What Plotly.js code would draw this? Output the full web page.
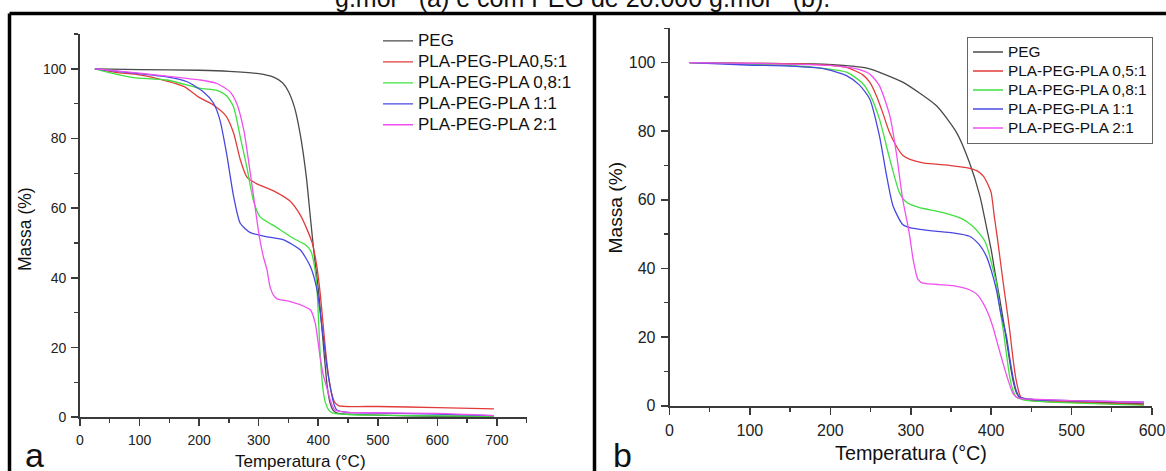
<!DOCTYPE html>
<html><head><meta charset="utf-8">
<script src="https://cdn.plot.ly/plotly-3.0.1.min.js"></script>
<style>html,body{margin:0;padding:0;background:#fff;} #chart{width:1166px;height:471px;}</style>
</head><body><div id="chart"></div>
<script>
// ---------- Panel a (PEG lower molar mass) ----------
const seriesNamesA = ["PEG", "PLA-PEG-PLA0,5:1", "PLA-PEG-PLA 0,8:1", "PLA-PEG-PLA 1:1", "PLA-PEG-PLA 2:1"];
const tempA_PEG = [25, 100, 200, 250, 300, 325, 340, 350, 360, 370, 380, 387, 393, 400, 405, 410, 415, 420, 425, 432, 450, 500, 600, 695];
const massA_PEG = [100, 99.8, 99.6, 99.3, 98.6, 97.6, 96, 93.5, 89, 81, 69, 57, 47, 37, 28, 18, 9, 4, 2, 1.2, 0.9, 0.6, 0.3, 0.2];
const tempA_05 = [25, 60, 100, 135, 175, 200, 225, 245, 258, 269, 280, 297, 325, 353, 370, 381, 390, 397, 403, 408, 413, 418, 423, 428, 435, 500, 600, 695];
const massA_05 = [100, 99, 98.3, 97, 94.9, 91.8, 89.5, 86.5, 81.5, 74, 69, 67, 65, 62, 58, 54, 50, 44, 36, 27, 18, 11, 6.5, 4.2, 3.3, 3.1, 2.8, 2.4];
const tempA_08 = [25, 60, 90, 146, 202, 230, 246, 258, 269, 280, 291, 302, 330, 358, 380, 388, 394, 398, 401, 404, 408, 412, 418, 425, 450, 500, 600, 695];
const massA_08 = [100, 98.5, 97.5, 96.8, 94.4, 93.8, 92.3, 89, 80.5, 71.9, 62.3, 57.6, 54.5, 51.4, 49.3, 47.5, 43, 36.5, 26, 16, 8, 4.2, 2, 1.2, 0.8, 0.6, 0.4, 0.3];
const tempA_11 = [25, 90, 146, 180, 207, 224, 235, 246, 258, 269, 286, 314, 342, 370, 387, 398, 404, 409, 415, 420, 426, 431, 450, 500, 600, 695];
const massA_11 = [100, 98.8, 97.7, 96.3, 93.4, 90.2, 85.3, 75.8, 63.3, 55.7, 53, 51.8, 50.9, 48, 43.2, 36.5, 29, 22.2, 14, 8.8, 4, 2.1, 1.4, 1.2, 0.9, 0.5];
const tempA_21 = [25, 100, 146, 202, 230, 252, 263, 275, 286, 297, 302, 308, 314, 319, 325, 331, 353, 370, 387, 395, 403, 408, 414, 421, 428, 450, 500, 600, 695];
const massA_21 = [100, 98.8, 97.9, 96.8, 95.8, 93.4, 90.1, 82.4, 70, 56.6, 51, 46, 42.3, 37.5, 35, 34, 33.2, 32.3, 30.8, 27, 17.4, 12.5, 8.8, 4.5, 2.1, 1.4, 1.3, 1.1, 0.5];

// ---------- Panel b (PEG 20.000 g/mol) ----------
const seriesNamesB = ["PEG", "PLA-PEG-PLA 0,5:1", "PLA-PEG-PLA 0,8:1", "PLA-PEG-PLA 1:1", "PLA-PEG-PLA 2:1"];
const tempB_PEG = [25, 100, 178, 220, 249, 261, 290, 332, 357, 373, 386, 394, 400, 405, 410, 415, 419, 423, 427, 431, 436, 450, 500, 590];
const massB_PEG = [100, 99.8, 99.6, 99.1, 98.2, 97.2, 94.3, 87.4, 79.6, 70.9, 61.1, 52.3, 45.5, 38.5, 32, 25, 19.2, 13, 7.5, 4, 2.2, 1.8, 1.3, 0.5];
const tempB_05 = [25, 100, 180, 220, 240, 249, 257, 265, 273, 282, 290, 299, 315, 332, 350, 369, 382, 390, 396, 400, 404, 408, 414, 419, 423, 427, 431, 437, 450, 500, 590];
const massB_05 = [100, 99.8, 99.5, 98.6, 96.5, 94.3, 90.5, 85.5, 80, 75.7, 73, 71.8, 70.8, 70.4, 70, 69.4, 68.5, 67, 64.5, 62.1, 55, 48.4, 37.5, 29, 22.1, 14, 7.5, 2.5, 1.5, 1, 0.3];
const tempB_08 = [25, 100, 137, 180, 220, 240, 249, 261, 274, 286, 295, 310, 332, 350, 365, 376, 386, 392, 396, 401, 406.5, 411, 415, 419, 423, 427, 431, 440, 450, 500, 590];
const massB_08 = [100, 99.6, 99.3, 98.6, 97.2, 94, 90.8, 83.6, 71.8, 62.1, 59.2, 57.8, 56.7, 55.6, 54.3, 52.5, 50, 48, 45.5, 41, 35.8, 28, 22.1, 15, 8.5, 4.5, 2.6, 1.7, 1.4, 0.8, 0.1];
const tempB_11 = [25, 96, 150, 190, 220, 236, 249, 261, 270, 278, 290, 300, 311, 330, 352, 373, 385, 394, 400, 406.5, 412, 419, 423, 427, 431, 435, 450, 500, 590];
const massB_11 = [100, 99.3, 99, 98.3, 96.2, 93.5, 89.4, 78.7, 67, 58.2, 52.8, 51.8, 51.4, 50.9, 50.4, 49.4, 47, 43.6, 39.5, 33.8, 27, 20.2, 14, 8.5, 4.5, 2.6, 1.8, 1.5, 1];
const tempB_21 = [25, 100, 199, 230, 249, 261, 274, 282, 290, 296.6, 299, 303, 309, 314, 319.5, 335, 352.5, 373, 383, 390, 396, 402, 408, 414.7, 421, 427, 433, 440, 450, 500, 590];
const massB_21 = [100, 99.8, 99.2, 98.3, 96.7, 93.3, 84.5, 73.8, 60.1, 52.3, 49, 42.6, 36.8, 35.8, 35.6, 35.3, 35, 33.8, 32.3, 29.9, 27, 23.1, 18, 12.4, 7.5, 3.6, 2.3, 2, 1.9, 1.5, 1];

const xTicksA = [0, 100, 200, 300, 400, 500, 600, 700];
const xTicksB = [0, 100, 200, 300, 400, 500, 600];
const yTicks = [0, 20, 40, 60, 80, 100];

const colors = ["#4a4a4a", "#e23b3b", "#3fe03f", "#4848e0", "#f050f0"];
const FONT = "Liberation Sans, Arial, Helvetica, sans-serif";
const W = 1166, H = 471;
const px = v => v / W, py = v => 1 - v / H;

const dataA = [[tempA_PEG, massA_PEG], [tempA_05, massA_05], [tempA_08, massA_08], [tempA_11, massA_11], [tempA_21, massA_21]];
const dataB = [[tempB_PEG, massB_PEG], [tempB_05, massB_05], [tempB_08, massB_08], [tempB_11, massB_11], [tempB_21, massB_21]];

const traces = [];
dataA.forEach((d, i) => traces.push({
  x: d[0], y: d[1], type: "scatter", mode: "lines", xaxis: "x", yaxis: "y", legend: "legend",
  name: '<span style="font-size:17px">' + seriesNamesA[i] + '</span>',
  line: {color: colors[i], width: 1.3, shape: "spline", smoothing: 0.6}, hoverinfo: "x+y"
}));
dataB.forEach((d, i) => traces.push({
  x: d[0], y: d[1], type: "scatter", mode: "lines", xaxis: "x2", yaxis: "y2", legend: "legend2",
  name: '<span style="font-size:15.4px">' + seriesNamesB[i] + '</span>',
  line: {color: colors[i], width: 1.3, shape: "spline", smoothing: 0.6}, hoverinfo: "x+y"
}));

function axis(domain, range, tickvals, dminor, fs, extra) {
  return Object.assign({
    domain: domain, range: range, tickmode: "array", tickvals: tickvals,
    showline: true, linecolor: "#3a3a3a", linewidth: 1.8, ticks: "outside", ticklen: 7, tickwidth: 1.6,
    tickcolor: "#3a3a3a", showgrid: false, zeroline: false, fixedrange: true,
    tickfont: {family: FONT, size: fs, color: "#222"},
    minor: {ticks: "outside", ticklen: 4, tickwidth: 1.4, tickcolor: "#3a3a3a", dtick: dminor, tick0: 0, showgrid: false}
  }, extra || {});
}

const borderLine = (x0, y0, x1, y1) => ({type: "line", xref: "paper", yref: "paper", x0: px(x0), y0: py(y0), x1: px(x1), y1: py(y1), line: {color: "#000", width: 3.5}});

const layout = {
  width: W, height: H, margin: {l: 0, r: 0, t: 0, b: 0}, paper_bgcolor: "#fff", plot_bgcolor: "rgba(0,0,0,0)",
  showlegend: true,
  xaxis: axis([px(80), px(526.7)], [0, 750], xTicksA, 50, 14, {anchor: "y", ticklabelstandoff: 2}),
  yaxis: axis([py(417.3), py(34)], [0, 110], yTicks, 10, 14, {anchor: "x", ticklabelstandoff: 2}),
  xaxis2: axis([px(669.5), px(1152)], [0, 600], xTicksB, 50, 16, {anchor: "y2", ticklabelstandoff: 2}),
  yaxis2: axis([py(405.7), py(28.3)], [0, 110], yTicks, 10, 16, {anchor: "x2", ticklabelstandoff: 2}),
  legend: {x: px(378), y: py(25.5), xanchor: "left", yanchor: "top", bgcolor: "rgba(0,0,0,0)", borderwidth: 0,
    font: {family: FONT, size: 13.8, color: "#111"}},
  legend2: {x: px(967), y: py(36.5), xanchor: "left", yanchor: "top", bgcolor: "#fff", bordercolor: "#666", borderwidth: 1,
    font: {family: FONT, size: 12.1, color: "#111"}},
  shapes: [borderLine(9.5, 13.5, 1166, 13.5), borderLine(9.5, 13.5, 9.5, 471), borderLine(594.5, 13.5, 594.5, 471)],
  annotations: [
    {text: "g.mol<sup>-1</sup> (a) e com PEG de 20.000 g.mol<sup>-1</sup> (b).", xref: "paper", yref: "paper", x: 0.4996, y: py(14), xanchor: "center", yanchor: "bottom", showarrow: false, font: {family: FONT, size: 25, color: "#111"}},
    {text: "a", xref: "paper", yref: "paper", x: px(34), y: py(455), xanchor: "center", yanchor: "middle", showarrow: false, font: {family: FONT, size: 34, color: "#111"}},
    {text: "b", xref: "paper", yref: "paper", x: px(622.5), y: py(455), xanchor: "center", yanchor: "middle", showarrow: false, font: {family: FONT, size: 34, color: "#111"}},
    {text: "Temperatura (°C)", xref: "paper", yref: "paper", x: px(300), y: py(461.3), xanchor: "center", yanchor: "middle", showarrow: false, font: {family: FONT, size: 17, color: "#111"}},
    {text: "Massa (%)", xref: "paper", yref: "paper", x: px(25), y: py(229), xanchor: "center", yanchor: "middle", textangle: -90, showarrow: false, font: {family: FONT, size: 17.5, color: "#111"}},
    {text: "Temperatura (°C)", xref: "paper", yref: "paper", x: px(911), y: py(452.8), xanchor: "center", yanchor: "middle", showarrow: false, font: {family: FONT, size: 19.8, color: "#111"}},
    {text: "Massa (%)", xref: "paper", yref: "paper", x: px(615), y: py(207.5), xanchor: "center", yanchor: "middle", textangle: -90, showarrow: false, font: {family: FONT, size: 19.2, color: "#111"}}
  ]
};

Plotly.newPlot("chart", traces, layout, {staticPlot: true, displayModeBar: false});
</script>
</body></html>
